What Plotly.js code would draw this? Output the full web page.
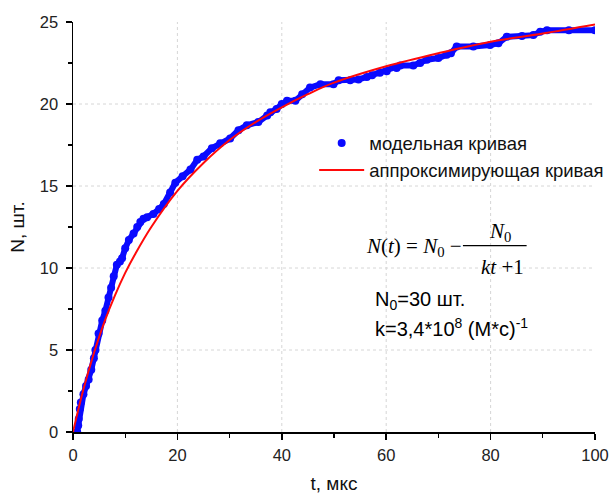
<!DOCTYPE html>
<html>
<head>
<meta charset="utf-8">
<script src="https://cdn.plot.ly/plotly-3.0.1.min.js"></script>
<style>html,body{margin:0;padding:0;background:#fff}#chart{width:611px;height:494px}</style>
</head>
<body>
<div id="chart"></div>
<script>
// model curve
var modelT = [0.8,1.0,1.1,1.3,1.5,2.0,2.5,3.0,3.5,4.0,4.3,4.9,5.6,6.2,6.8,7.3,7.8,8.4,9.0,9.4,10.0,10.7,11.6,12.3,12.9,13.5,14.2,15.4,16.5,17.4,18.6,19.6,21.0,22.5,23.8,25.0,26.6,28.2,30.1,31.7,33.3,35.5,37.2,37.8,39.0,40.0,41.0,42.6,43.9,45.4,47.4,49.9,50.9,53.1,54.7,56.3,57.3,58.8,60.1,62.0,62.7,65.2,66.5,67.8,70.0,71.6,72.4,73.5,76.7,79.9,81.5,83.1,86.0,88.2,89.5,90.8,95.0,100];
var modelN = [0,0.4,0.8,1.4,1.8,2.3,2.8,3.2,3.8,4.5,5.0,6.0,6.8,7.4,8.2,8.8,9.5,10.2,10.4,10.6,11.2,11.7,12.1,12.5,12.8,13.0,13.1,13.3,13.6,13.9,14.6,15.2,15.6,16.0,16.6,16.8,17.3,17.6,17.9,18.4,18.7,18.9,19.3,19.5,19.7,20.0,20.2,20.2,20.6,21.0,21.2,21.2,21.45,21.45,21.5,21.65,21.75,21.9,22.0,22.2,22.35,22.35,22.5,22.7,22.8,23.0,23.1,23.5,23.5,23.6,23.7,24.1,24.15,24.2,24.4,24.5,24.5,24.5];
// approximating curve
var fitT = [0,2,4,6,8,10,12,15,20,25,30,35,40,45,50,60,70,80,90,100];
var fitN = [0,2.6,4.8,6.7,8.3,9.7,10.9,12.5,14.7,16.4,17.8,18.9,19.8,20.6,21.3,22.3,23.1,23.8,24.3,24.85];
var xTicks = [0,20,40,60,80,100];
var yTicks = [0,5,10,15,20,25];
var gridX = [20,40,60,80];
var gridY = [5,10,15,20];
var legendNames = ['модельная кривая','аппроксимирующая кривая'];

var blue = '#0a0aff', red = '#ff0a0a';
var traces = [
  {x: modelT, y: modelN, mode: 'lines', line: {color: blue, width: 6}, showlegend: false, hoverinfo: 'skip'},
  {x: modelT, y: modelN, mode: 'markers', marker: {color: blue, size: 8}, name: legendNames[0]},
  {x: fitT, y: fitN, mode: 'lines', line: {color: red, width: 2, shape: 'spline', smoothing: 1}, name: legendNames[1]}
];

var shapes = [];
gridX.forEach(function(v){ shapes.push({type:'line', xref:'x', yref:'paper', x0:v, x1:v, y0:0, y1:1, layer:'below', line:{color:'#d6d6d6', width:1, dash:'dot'}}); });
gridY.forEach(function(v){ shapes.push({type:'line', xref:'paper', yref:'y', x0:0, x1:1, y0:v, y1:v, layer:'below', line:{color:'#d6d6d6', width:1, dash:'dot'}}); });
// fraction bar
shapes.push({type:'line', xref:'x', yref:'y', x0:74.7, x1:86.9, y0:11.36, y1:11.36, line:{color:'#000', width:1.3}});

var serif = {family: '"Liberation Serif", "Times New Roman", serif', size: 21, color: '#000'};
var sans = {family: '"Liberation Sans", Arial, sans-serif', size: 20, color: '#000'};
var annotations = [
  {xref:'x', yref:'y', x:55.8, y:11.3, xanchor:'left', yanchor:'middle', showarrow:false, font:serif, text:'<i>N</i>(<i>t</i>) = <i>N</i><sub>0</sub> −'},
  {xref:'x', yref:'y', x:81.8, y:12.2, xanchor:'center', yanchor:'middle', showarrow:false, font:serif, text:'<i>N</i><sub>0</sub>'},
  {xref:'x', yref:'y', x:82.3, y:10.05, xanchor:'center', yanchor:'middle', showarrow:false, font:serif, text:'<i>kt</i> +1'},
  {xref:'x', yref:'y', x:57.5, y:8.0, xanchor:'left', yanchor:'middle', showarrow:false, font:sans, text:'N<sub>0</sub>=30 шт.'},
  {xref:'x', yref:'y', x:57.5, y:6.4, xanchor:'left', yanchor:'middle', showarrow:false, font:sans, text:'k=3,4*10<sup>8</sup> (M*c)<sup>-1</sup>'}
];

var axisFont = {family: '"Liberation Sans", Arial, sans-serif', size: 16.5, color: '#222'};
var titleFont = {family: '"Liberation Sans", Arial, sans-serif', size: 19, color: '#111'};
var layout = {
  width: 611, height: 494,
  margin: {l: 73, r: 16, t: 22, b: 62, autoexpand: false},
  paper_bgcolor: '#fff', plot_bgcolor: '#fff',
  showlegend: true,
  legend: {x: 0.462, y: 0.75, xanchor: 'left', yanchor: 'top', bgcolor: 'rgba(0,0,0,0)', font: {family: '"Liberation Sans", Arial, sans-serif', size: 18.5, color: '#111'}, itemwidth: 45, tracegroupgap: 0},
  xaxis: {range: [0, 100], tickvals: xTicks, ticktext: xTicks.map(String), ticks: 'outside', ticklen: 6, tickwidth: 1.5, tickcolor: '#000',
          showline: true, linecolor: '#000', linewidth: 1.5, showgrid: false, zeroline: false, tickfont: axisFont, ticklabelstandoff: 2,
          minor: {dtick: 10, tick0: 0, ticks: 'outside', ticklen: 4, tickwidth: 1.2, tickcolor: '#000', showgrid: false},
          title: {text: 't, мкс', font: titleFont, standoff: 14}},
  yaxis: {range: [0, 25], tickvals: yTicks, ticktext: yTicks.map(String), ticks: 'outside', ticklen: 6, tickwidth: 1.5, tickcolor: '#000',
          showline: true, linecolor: '#000', linewidth: 1.5, showgrid: false, zeroline: false, tickfont: axisFont, ticklabelstandoff: 4,
          minor: {dtick: 2.5, tick0: 0, ticks: 'outside', ticklen: 4, tickwidth: 1.2, tickcolor: '#000', showgrid: false},
          title: {text: 'N, шт.', font: titleFont, standoff: 10}},
  shapes: shapes,
  annotations: annotations
};
Plotly.newPlot('chart', traces, layout, {displayModeBar: false, staticPlot: true});
</script>
</body>
</html>
